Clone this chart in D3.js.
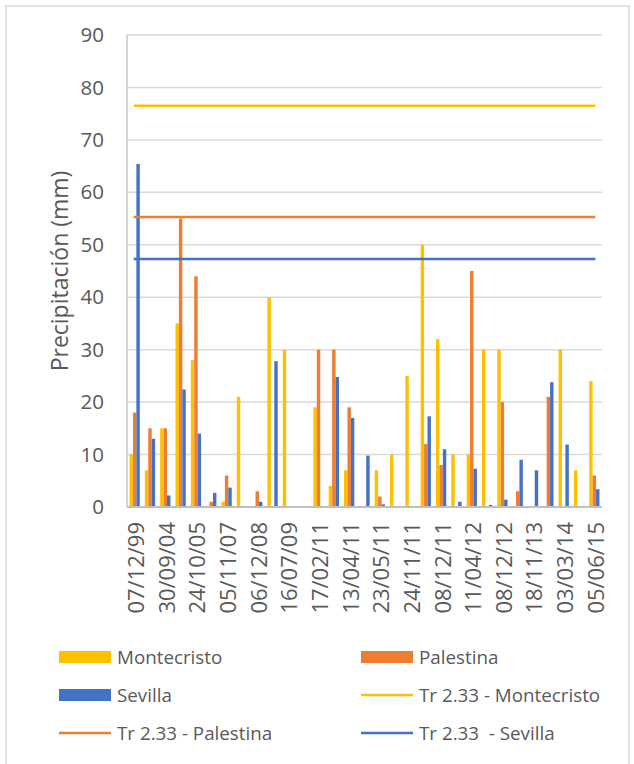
<!DOCTYPE html>
<html>
<head>
<meta charset="utf-8">
<script src="https://cdn.jsdelivr.net/npm/d3@7"></script>
<style>
  html, body { margin: 0; padding: 0; background: #ffffff; }
  svg { display: block; }
  text { font-family: "Open Sans", "Noto Sans", sans-serif; fill: #595959; }
</style>
</head>
<body>
<script>
// ---- data ----
const tickLabels = ["07/12/99","30/09/04","24/10/05","05/11/07","06/12/08","16/07/09","17/02/11","13/04/11",
                    "23/05/11","24/11/11","08/12/11","11/04/12","08/12/12","18/11/13","03/03/14","05/06/15"];
const montecristo = [10,7,15,35,28,0,1,21,0,40,30,0,19,4,7,0,7,10,25,50,32,10,10,30,30,0,0,0,30,7,24];
const palestina   = [18,15,15,55,44,1,6,0,3,0,0,0,30,30,19,0,2,0,0,12,8,0,45,0,20,3,0,21,0,0,6];
const sevilla     = [65.4,13,2.2,22.4,14,2.7,3.7,0,1,27.8,0,0,0,24.8,17,9.8,0.5,0,0,17.3,11,1,7.3,0.4,1.4,9,7,23.8,11.9,0,3.4];
const trMontecristo = 76.5;
const trPalestina   = 55.3;
const trSevilla     = 47.3;
const yTicks = [0,10,20,30,40,50,60,70,80,90];

const seriesNames = ["Montecristo","Palestina","Sevilla"];
const colors = { Montecristo: "#FFC000", Palestina: "#ED7D31", Sevilla: "#4472C4" };
const barData = { Montecristo: montecristo, Palestina: palestina, Sevilla: sevilla };

const W = 634, H = 764;
const plot = { left: 127, right: 602, top: 35, bottom: 507 };

const svg = d3.select("body").append("svg").attr("width", W).attr("height", H);

// outer border
svg.append("rect").attr("x", 6).attr("y", 6).attr("width", 623).attr("height", 780)
  .attr("fill", "none").attr("stroke", "#d9d9d9").attr("stroke-width", 1.5);

const nCat = montecristo.length;
const x = d3.scaleBand().domain(d3.range(nCat)).range([plot.left, plot.right])
  .paddingInner(0.33).paddingOuter(0.165);
const x1 = d3.scaleBand().domain(seriesNames).range([0, x.bandwidth()]);
const y = d3.scaleLinear().domain([0, 90]).range([plot.bottom, plot.top]);

// gridlines
svg.append("g").selectAll("line").data(yTicks.filter(d => d > 0)).join("line")
  .attr("x1", plot.left).attr("x2", plot.right)
  .attr("y1", d => y(d)).attr("y2", d => y(d))
  .attr("stroke", "#d9d9d9").attr("stroke-width", 1.5);

// y axis labels
const yAxis = d3.axisLeft(y).tickValues(yTicks).tickSize(0).tickPadding(0);
const gy = svg.append("g").attr("transform", `translate(104,0)`).call(yAxis);
gy.select(".domain").remove();
gy.selectAll("text").attr("font-size", 20.5).attr("fill", "#595959")
  .style("font-family", '"Open Sans", sans-serif');

// left axis line
svg.append("line").attr("x1", plot.left).attr("x2", plot.left)
  .attr("y1", plot.top).attr("y2", plot.bottom)
  .attr("stroke", "#c8c8c8").attr("stroke-width", 1.5);

// bars
const gBars = svg.append("g");
seriesNames.forEach(name => {
  gBars.append("g").selectAll("rect").data(barData[name]).join("rect")
    .attr("x", (d, i) => x(i) + x1(name))
    .attr("width", x1.bandwidth())
    .attr("y", d => y(d))
    .attr("height", d => y(0) - y(d))
    .attr("fill", colors[name]);
});

// x baseline
svg.append("line").attr("x1", plot.left).attr("x2", plot.right)
  .attr("y1", plot.bottom).attr("y2", plot.bottom)
  .attr("stroke", "#bfbfbf").attr("stroke-width", 2);

// threshold lines
const trLines = [
  { name: "Montecristo", v: trMontecristo },
  { name: "Palestina", v: trPalestina },
  { name: "Sevilla", v: trSevilla }
];
const xc = i => x(i) + x.bandwidth() / 2;
svg.append("g").selectAll("line").data(trLines).join("line")
  .attr("x1", xc(0) - 1).attr("x2", xc(nCat - 1) + 1)
  .attr("y1", d => y(d.v)).attr("y2", d => y(d.v))
  .attr("stroke", d => colors[d.name]).attr("stroke-width", 2.5);

// x tick labels (every other category)
const tickIdx = d3.range(0, nCat, 2);
const xAxis = d3.axisBottom(x).tickValues(tickIdx).tickSize(0)
  .tickFormat(i => tickLabels[i / 2]);
const gx = svg.append("g").attr("transform", `translate(0,${plot.bottom})`).call(xAxis);
gx.select(".domain").remove();
gx.selectAll("text")
  .attr("font-size", 22).attr("fill", "#595959")
  .style("font-family", '"Open Sans", sans-serif')
  .attr("transform", "rotate(-90)")
  .attr("text-anchor", "end")
  .attr("x", -15).attr("y", 0).attr("dy", "0.36em")
  .attr("dx", 0);
gx.selectAll(".tick").attr("transform", d => `translate(${xc(d) + 1.5},0)`);

// y axis title
svg.append("text")
  .attr("transform", `translate(68,${(plot.top + plot.bottom) / 2}) rotate(-90)`)
  .attr("text-anchor", "middle")
  .attr("font-size", 23)
  .text("Precipitación (mm)");

// legend
const legend = [
  { label: "Montecristo", name: "Montecristo", type: "bar", col: 0, row: 0 },
  { label: "Palestina", name: "Palestina", type: "bar", col: 1, row: 0 },
  { label: "Sevilla", name: "Sevilla", type: "bar", col: 0, row: 1 },
  { label: "Tr 2.33 - Montecristo", name: "Montecristo", type: "line", col: 1, row: 1 },
  { label: "Tr 2.33 - Palestina", name: "Palestina", type: "line", col: 0, row: 2 },
  { label: "Tr 2.33\u00a0 - Sevilla", name: "Sevilla", type: "line", col: 1, row: 2 }
];
const colX = [59, 361];
const rowY = [657, 695, 733];
const gl = svg.append("g");
legend.forEach(d => {
  const lx = colX[d.col], ly = rowY[d.row];
  if (d.type === "bar") {
    gl.append("rect").attr("x", lx).attr("y", ly - 6).attr("width", 52).attr("height", 12)
      .attr("fill", colors[d.name]);
  } else {
    gl.append("line").attr("x1", lx).attr("x2", lx + 52).attr("y1", ly).attr("y2", ly)
      .attr("stroke", colors[d.name]).attr("stroke-width", 2.5);
  }
  gl.append("text").attr("x", lx + 58).attr("y", ly).attr("dy", "0.35em")
    .attr("font-size", 18.8).text(d.label);
});
</script>
</body>
</html>
